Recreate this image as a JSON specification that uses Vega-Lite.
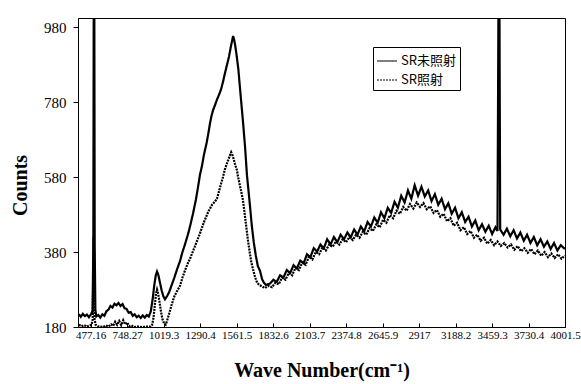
{
  "$schema": "https://vega.github.io/schema/vega-lite/v6.json",
  "autosize": "none",
  "width": 487,
  "height": 309,
  "padding": {"left": 78, "top": 18, "right": 16, "bottom": 57},
  "background": "white",
  "config": {
    "view": {"stroke": "black", "strokeWidth": 1},
    "axis": {"domainColor": "black", "tickColor": "black", "labelColor": "black", "titleColor": "black", "grid": false}
  },
  "datasets": {
    "untreated": [
      {"wn":391,"counts":214},{"wn":405,"counts":207},{"wn":420,"counts":215},{"wn":435,"counts":209},{"wn":450,"counts":213},{"wn":465,"counts":206},{"wn":480,"counts":214},{"wn":492,"counts":222},{"wn":498,"counts":400},{"wn":501,"counts":1100},{"wn":505,"counts":1100},{"wn":508,"counts":400},{"wn":513,"counts":226},{"wn":520,"counts":208},{"wn":535,"counts":212},{"wn":550,"counts":205},{"wn":565,"counts":214},{"wn":580,"counts":210},{"wn":595,"counts":222},{"wn":610,"counts":226},{"wn":625,"counts":236},{"wn":640,"counts":232},{"wn":655,"counts":242},{"wn":670,"counts":238},{"wn":685,"counts":244},{"wn":700,"counts":236},{"wn":715,"counts":241},{"wn":730,"counts":230},{"wn":745,"counts":228},{"wn":760,"counts":218},{"wn":775,"counts":220},{"wn":790,"counts":210},{"wn":805,"counts":214},{"wn":820,"counts":206},{"wn":835,"counts":210},{"wn":850,"counts":204},{"wn":865,"counts":211},{"wn":880,"counts":205},{"wn":895,"counts":212},{"wn":910,"counts":208},{"wn":925,"counts":222},{"wn":940,"counts":258},{"wn":950,"counts":290},{"wn":962,"counts":318},{"wn":971,"counts":328},{"wn":980,"counts":320},{"wn":992,"counts":300},{"wn":1005,"counts":278},{"wn":1018,"counts":262},{"wn":1030,"counts":254},{"wn":1045,"counts":262},{"wn":1060,"counts":272},{"wn":1080,"counts":292},{"wn":1100,"counts":312},{"wn":1120,"counts":334},{"wn":1142,"counts":356},{"wn":1160,"counts":380},{"wn":1180,"counts":402},{"wn":1200,"counts":426},{"wn":1216,"counts":448},{"wn":1238,"counts":482},{"wn":1260,"counts":520},{"wn":1275,"counts":552},{"wn":1290,"counts":586},{"wn":1305,"counts":610},{"wn":1320,"counts":640},{"wn":1340,"counts":672},{"wn":1355,"counts":702},{"wn":1364,"counts":722},{"wn":1375,"counts":742},{"wn":1387,"counts":758},{"wn":1400,"counts":770},{"wn":1416,"counts":786},{"wn":1430,"counts":798},{"wn":1445,"counts":812},{"wn":1460,"counts":832},{"wn":1475,"counts":856},{"wn":1490,"counts":878},{"wn":1505,"counts":900},{"wn":1518,"counts":925},{"wn":1528,"counts":942},{"wn":1536,"counts":956},{"wn":1544,"counts":946},{"wn":1552,"counts":930},{"wn":1562,"counts":905},{"wn":1575,"counts":868},{"wn":1590,"counts":806},{"wn":1609,"counts":730},{"wn":1625,"counts":660},{"wn":1639,"counts":585},{"wn":1650,"counts":545},{"wn":1661,"counts":505},{"wn":1675,"counts":450},{"wn":1690,"counts":405},{"wn":1705,"counts":370},{"wn":1720,"counts":342},{"wn":1736,"counts":330},{"wn":1751,"counts":308},{"wn":1765,"counts":298},{"wn":1780,"counts":292},{"wn":1795,"counts":294},
      {"wn":1810,"counts":296},{"wn":1835,"counts":306},{"wn":1860,"counts":300},{"wn":1885,"counts":318},{"wn":1910,"counts":312},{"wn":1935,"counts":332},{"wn":1960,"counts":324},{"wn":1985,"counts":345},{"wn":2010,"counts":336},{"wn":2035,"counts":357},{"wn":2060,"counts":350},{"wn":2085,"counts":374},{"wn":2110,"counts":366},{"wn":2135,"counts":390},{"wn":2160,"counts":381},{"wn":2185,"counts":400},{"wn":2210,"counts":390},{"wn":2235,"counts":414},{"wn":2260,"counts":400},{"wn":2285,"counts":420},{"wn":2310,"counts":406},{"wn":2335,"counts":426},{"wn":2360,"counts":414},{"wn":2385,"counts":432},{"wn":2410,"counts":419},{"wn":2435,"counts":440},{"wn":2460,"counts":426},{"wn":2485,"counts":448},{"wn":2510,"counts":435},{"wn":2535,"counts":460},{"wn":2560,"counts":448},{"wn":2585,"counts":472},{"wn":2610,"counts":458},{"wn":2635,"counts":486},{"wn":2660,"counts":470},{"wn":2685,"counts":498},{"wn":2710,"counts":484},{"wn":2735,"counts":514},{"wn":2760,"counts":498},{"wn":2785,"counts":530},{"wn":2810,"counts":512},{"wn":2835,"counts":544},{"wn":2860,"counts":522},{"wn":2885,"counts":558},{"wn":2910,"counts":530},{"wn":2935,"counts":554},{"wn":2960,"counts":528},{"wn":2985,"counts":544},{"wn":3010,"counts":516},{"wn":3035,"counts":534},{"wn":3060,"counts":506},{"wn":3085,"counts":522},{"wn":3110,"counts":494},{"wn":3135,"counts":510},{"wn":3160,"counts":482},{"wn":3185,"counts":498},{"wn":3210,"counts":470},{"wn":3235,"counts":486},{"wn":3260,"counts":460},{"wn":3285,"counts":474},{"wn":3310,"counts":448},{"wn":3335,"counts":464},{"wn":3360,"counts":438},{"wn":3385,"counts":454},{"wn":3410,"counts":434},{"wn":3435,"counts":450},{"wn":3460,"counts":428},{"wn":3485,"counts":446},{"wn":3500,"counts":436},{"wn":3508,"counts":1100},{"wn":3514,"counts":1100},{"wn":3520,"counts":440},{"wn":3545,"counts":426},{"wn":3570,"counts":442},{"wn":3595,"counts":422},{"wn":3620,"counts":438},{"wn":3645,"counts":416},{"wn":3670,"counts":432},{"wn":3695,"counts":410},{"wn":3720,"counts":426},{"wn":3745,"counts":404},{"wn":3770,"counts":420},{"wn":3795,"counts":398},{"wn":3820,"counts":414},{"wn":3845,"counts":394},{"wn":3870,"counts":408},{"wn":3895,"counts":388},{"wn":3920,"counts":404},{"wn":3945,"counts":384},{"wn":3970,"counts":398},{"wn":4001,"counts":388}
    ],
    "irradiated": [
      {"wn":391,"counts":186},{"wn":410,"counts":182},{"wn":430,"counts":185},{"wn":450,"counts":181},{"wn":470,"counts":184},{"wn":485,"counts":186},{"wn":493,"counts":200},{"wn":497,"counts":300},{"wn":500,"counts":420},{"wn":503,"counts":300},{"wn":507,"counts":200},{"wn":515,"counts":186},{"wn":530,"counts":182},{"wn":550,"counts":181},{"wn":570,"counts":180},{"wn":590,"counts":184},{"wn":610,"counts":181},{"wn":630,"counts":187},{"wn":645,"counts":183},{"wn":660,"counts":194},{"wn":675,"counts":186},{"wn":690,"counts":196},{"wn":705,"counts":185},{"wn":720,"counts":198},{"wn":735,"counts":187},{"wn":750,"counts":192},{"wn":765,"counts":182},{"wn":780,"counts":184},{"wn":800,"counts":180},{"wn":830,"counts":181},{"wn":860,"counts":180},{"wn":890,"counts":181},{"wn":920,"counts":181},{"wn":935,"counts":186},{"wn":945,"counts":205},{"wn":955,"counts":240},{"wn":964,"counts":270},{"wn":971,"counts":280},{"wn":980,"counts":268},{"wn":990,"counts":245},{"wn":1000,"counts":222},{"wn":1012,"counts":200},{"wn":1025,"counts":188},{"wn":1035,"counts":186},{"wn":1045,"counts":196},{"wn":1060,"counts":214},{"wn":1080,"counts":240},{"wn":1100,"counts":262},{"wn":1120,"counts":276},{"wn":1142,"counts":290},{"wn":1160,"counts":312},{"wn":1180,"counts":332},{"wn":1200,"counts":350},{"wn":1216,"counts":362},{"wn":1240,"counts":384},{"wn":1260,"counts":402},{"wn":1290,"counts":430},{"wn":1320,"counts":460},{"wn":1350,"counts":486},{"wn":1380,"counts":506},{"wn":1400,"counts":514},{"wn":1416,"counts":522},{"wn":1430,"counts":540},{"wn":1445,"counts":560},{"wn":1461,"counts":580},{"wn":1475,"counts":600},{"wn":1490,"counts":616},{"wn":1505,"counts":630},{"wn":1515,"counts":640},{"wn":1522,"counts":646},{"wn":1530,"counts":640},{"wn":1540,"counts":628},{"wn":1552,"counts":612},{"wn":1565,"counts":598},{"wn":1572,"counts":582},{"wn":1585,"counts":560},{"wn":1597,"counts":540},{"wn":1609,"counts":519},{"wn":1620,"counts":488},{"wn":1633,"counts":450},{"wn":1645,"counts":415},{"wn":1660,"counts":378},{"wn":1672,"counts":352},{"wn":1684,"counts":334},{"wn":1700,"counts":312},{"wn":1715,"counts":298},{"wn":1730,"counts":292},{"wn":1751,"counts":288},
      {"wn":1773,"counts":284},{"wn":1800,"counts":290},{"wn":1825,"counts":286},{"wn":1850,"counts":298},{"wn":1875,"counts":294},{"wn":1900,"counts":312},{"wn":1925,"counts":306},{"wn":1950,"counts":324},{"wn":1975,"counts":318},{"wn":2000,"counts":338},{"wn":2025,"counts":332},{"wn":2050,"counts":352},{"wn":2075,"counts":346},{"wn":2100,"counts":368},{"wn":2125,"counts":360},{"wn":2150,"counts":380},{"wn":2175,"counts":374},{"wn":2200,"counts":392},{"wn":2225,"counts":384},{"wn":2250,"counts":400},{"wn":2275,"counts":394},{"wn":2300,"counts":408},{"wn":2325,"counts":400},{"wn":2350,"counts":414},{"wn":2375,"counts":406},{"wn":2400,"counts":420},{"wn":2425,"counts":412},{"wn":2450,"counts":426},{"wn":2475,"counts":418},{"wn":2500,"counts":434},{"wn":2525,"counts":426},{"wn":2550,"counts":444},{"wn":2575,"counts":436},{"wn":2600,"counts":454},{"wn":2625,"counts":446},{"wn":2650,"counts":466},{"wn":2675,"counts":458},{"wn":2700,"counts":478},{"wn":2725,"counts":470},{"wn":2750,"counts":490},{"wn":2775,"counts":482},{"wn":2800,"counts":500},{"wn":2825,"counts":490},{"wn":2850,"counts":508},{"wn":2875,"counts":496},{"wn":2900,"counts":512},{"wn":2925,"counts":500},{"wn":2950,"counts":510},{"wn":2975,"counts":494},{"wn":3000,"counts":502},{"wn":3025,"counts":484},{"wn":3050,"counts":492},{"wn":3075,"counts":474},{"wn":3100,"counts":482},{"wn":3125,"counts":462},{"wn":3150,"counts":470},{"wn":3175,"counts":450},{"wn":3200,"counts":458},{"wn":3225,"counts":438},{"wn":3250,"counts":446},{"wn":3275,"counts":428},{"wn":3300,"counts":436},{"wn":3325,"counts":418},{"wn":3350,"counts":426},{"wn":3375,"counts":410},{"wn":3400,"counts":418},{"wn":3425,"counts":402},{"wn":3450,"counts":412},{"wn":3475,"counts":398},{"wn":3500,"counts":408},{"wn":3525,"counts":396},{"wn":3550,"counts":404},{"wn":3575,"counts":392},{"wn":3600,"counts":400},{"wn":3625,"counts":386},{"wn":3650,"counts":396},{"wn":3675,"counts":382},{"wn":3700,"counts":390},{"wn":3725,"counts":378},{"wn":3750,"counts":388},{"wn":3775,"counts":374},{"wn":3800,"counts":384},{"wn":3825,"counts":370},{"wn":3850,"counts":380},{"wn":3875,"counts":366},{"wn":3900,"counts":376},{"wn":3925,"counts":364},{"wn":3950,"counts":374},{"wn":3975,"counts":362},{"wn":4001,"counts":370}
    ]
  },
  "layer": [
    {
      "data": {"name": "untreated"},
      "mark": {"type": "line", "color": "black", "strokeWidth": 2.2, "clip": true},
      "encoding": {
        "strokeDash": {"datum": "SR未照射"}
      }
    },
    {
      "data": {"name": "irradiated"},
      "mark": {"type": "line", "color": "black", "strokeWidth": 2.2, "clip": true},
      "encoding": {
        "strokeDash": {"datum": "SR照射"}
      }
    }
  ],
  "encoding": {
    "x": {
      "field": "wn", "type": "quantitative",
      "scale": {"domain": [384, 4001.5], "nice": false, "zero": false},
      "axis": {
        "values": [477.16, 748.27, 1019.3, 1290.4, 1561.5, 1832.6, 2103.7, 2374.8, 2645.9, 2917, 3188.2, 3459.3, 3730.4, 4001.5],
        "labelExpr": "'' + datum.value",
        "labelFont": "Liberation Serif", "labelFontSize": 11, "labelPadding": 6,
        "tickSize": -4, "labelFlush": false, "labelOverlap": false,
        "title": "Wave Number(cm⁻¹)",
        "titleFont": "Liberation Serif", "titleFontSize": 20, "titleFontWeight": "bold",
        "titleBaseline": "middle", "titleY": 43
      }
    },
    "y": {
      "field": "counts", "type": "quantitative",
      "scale": {"domain": [180, 1004], "nice": false, "zero": false},
      "axis": {
        "values": [180, 380, 580, 780, 980],
        "labelFont": "Liberation Serif", "labelFontSize": 15, "labelPadding": 7,
        "tickSize": 5, "labelFlush": false,
        "title": "Counts",
        "titleFont": "Liberation Serif", "titleFontSize": 20, "titleFontWeight": "bold",
        "titleX": -58, "titleY": 167, "titleBaseline": "middle", "titleAlign": "center"
      }
    },
    "strokeDash": {
      "type": "nominal",
      "scale": {"domain": ["SR未照射", "SR照射"], "range": [[1, 0], [2, 1]]},
      "legend": {
        "title": null, "orient": "none", "legendX": 295, "legendY": 29,
        "symbolType": "stroke", "symbolSize": 400, "symbolStrokeWidth": 1.2, "symbolStrokeColor": "black",
        "labelFont": "Noto Sans CJK JP", "labelFontSize": 13, "labelColor": "black", "labelOffset": 3,
        "strokeColor": "black", "fillColor": "white", "padding": 3, "rowPadding": 1, "cornerRadius": 0
      }
    }
  }
}
